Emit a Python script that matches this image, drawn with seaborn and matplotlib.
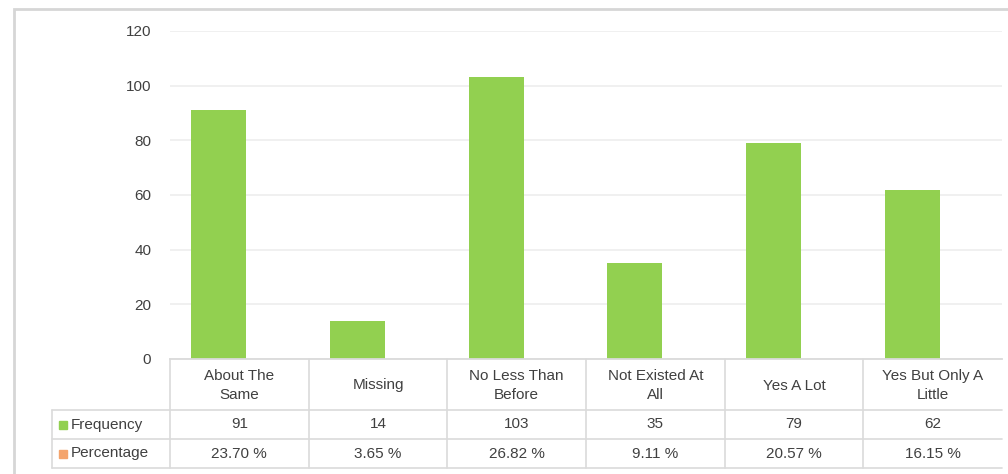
import matplotlib
matplotlib.use("Agg")
import matplotlib.pyplot as plt
import pandas as pd
import seaborn as sns
from matplotlib.lines import Line2D
from matplotlib.patches import Rectangle

# data
categories = ["About The\nSame", "Missing", "No Less Than\nBefore",
              "Not Existed At\nAll", "Yes A Lot", "Yes But Only A\nLittle"]
frequency = [91, 14, 103, 35, 79, 62]
percentage = [23.70, 3.65, 26.82, 9.11, 20.57, 16.15]
series_names = ["Frequency", "Percentage"]
y_ticks = [0, 20, 40, 60, 80, 100, 120]

W, H = 1008, 474
GREEN = "#92D050"
ORANGE = "#F4A46C"
TXT = "#404040"
LINE = "#DADADA"

sns.set_style("white")
plt.rcParams["font.family"] = ["Liberation Sans", "DejaVu Sans"]

fig = plt.figure(figsize=(W / 100, H / 100), dpi=100)


def fx(px):
    return px / W


def fy(py):
    return 1 - py / H


# plot area in pixels (from top-left)
left, right, top, bottom = 170, 1002, 31, 359
ax = fig.add_axes([fx(left), fy(bottom), fx(right) - fx(left), fy(top) - fy(bottom)])

df = pd.DataFrame({"category": categories, "value": frequency})
sns.barplot(data=df, x="category", y="value", color=GREEN, saturation=1,
            width=0.397, linewidth=0, ax=ax)

# Excel clustered layout leaves each bar left of its column centre
shift = 0.148
ax.set_xlim(-0.5 + shift, len(categories) - 0.5 + shift)
ax.set_ylim(0, 120)
ax.set_yticks(y_ticks)
ax.set_xticks([])
ax.set_xlabel("")
ax.set_ylabel("")
ax.yaxis.grid(True, color="#EFEFEF", lw=1.3)
ax.set_axisbelow(True)
for s in ["left", "right", "top"]:
    ax.spines[s].set_visible(False)
ax.spines["bottom"].set_color(LINE)
ax.spines["bottom"].set_linewidth(1.3)
ax.tick_params(axis="y", length=0, pad=13.5, labelsize=11, labelcolor=TXT)

# data table under the plot
n = len(categories)
col_w = (right - left) / n
row_top, row_mid, row_bot = 410, 439, 468
label_left = 52
fs = 11

for y in [row_top, row_mid, row_bot]:
    fig.add_artist(Line2D([fx(label_left), fx(right)], [fy(y), fy(y)],
                          color=LINE, lw=1.2, transform=fig.transFigure))
fig.add_artist(Line2D([fx(label_left)] * 2, [fy(row_top), fy(row_bot)],
                      color=LINE, lw=1.2, transform=fig.transFigure))
for i in range(n):
    x = left + i * col_w
    fig.add_artist(Line2D([fx(x)] * 2, [fy(bottom), fy(row_bot)],
                          color=LINE, lw=1.2, transform=fig.transFigure))

for i, cat in enumerate(categories):
    cx = fx(left + (i + 0.5) * col_w)
    fig.text(cx, fy((bottom + row_top) / 2 + 1), cat, ha="center", va="center",
             fontsize=fs, color=TXT, linespacing=1.45)
    fig.text(cx, fy((row_top + row_mid) / 2), str(frequency[i]), ha="center",
             va="center", fontsize=fs, color=TXT)
    fig.text(cx, fy((row_mid + row_bot) / 2), f"{percentage[i]:.2f} %",
             ha="center", va="center", fontsize=fs, color=TXT)

for (name, col), (y0, y1) in zip(zip(series_names, [GREEN, ORANGE]),
                                 [(row_top, row_mid), (row_mid, row_bot)]):
    yc = (y0 + y1) / 2
    fig.add_artist(Rectangle((fx(59), fy(yc + 4)), fx(8), fy(yc - 4) - fy(yc + 4),
                             color=col, transform=fig.transFigure))
    fig.text(fx(71), fy(yc), name, ha="left", va="center", fontsize=fs, color=TXT)

# chart frame, running off the right and bottom edges
fig.add_artist(Rectangle((fx(14), fy(490)), fx(1100) - fx(14), fy(9) - fy(490),
                         fill=False, edgecolor="#D6D6D6", lw=2,
                         transform=fig.transFigure))

fig.savefig("out.png", dpi=100)
